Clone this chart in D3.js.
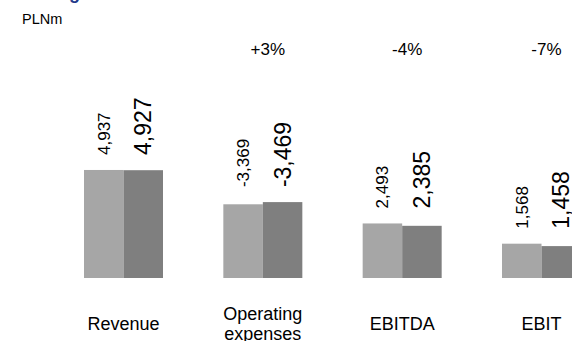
<!DOCTYPE html>
<html>
<head>
<meta charset="utf-8">
<script src="https://cdn.jsdelivr.net/npm/d3@7"></script>
<style>
  html, body { margin: 0; padding: 0; background: #fff; }
  svg { display: block; font-family: "Liberation Sans", Arial, sans-serif; }
</style>
</head>
<body>
<svg id="chart" width="572" height="341"></svg>
<script>
// Categories and the two periods compared
const categories = ["Revenue", "Operating expenses", "EBITDA", "EBIT"];
const categoryLines = [["Revenue"], ["Operating", "expenses"], ["EBITDA"], ["EBIT"]];
const periods = ["previous", "current"];

// Values in PLNm (absolute magnitudes drawn as bars, label text keeps the sign)
const previousValues = [4937, 3369, 2493, 1568];
const currentValues = [4927, 3469, 2385, 1458];
const previousLabels = ["4,937", "-3,369", "2,493", "1,568"];
const currentLabels = ["4,927", "-3,469", "2,385", "1,458"];

// Year-on-year change shown above the three cost / profit groups
const changeLabels = [null, "+3%", "-4%", "-7%"];

const unitLabel = "PLNm";
const titleText = "Strong results";

const svg = d3.select("#chart");

const colors = { previous: "#a6a6a6", current: "#7f7f7f" };

const x = d3.scaleBand()
  .domain(categories)
  .range([84, 581])
  .paddingInner(0.433)
  .paddingOuter(0);

const xInner = d3.scaleBand()
  .domain(periods)
  .range([0, x.bandwidth()])
  .padding(0);

const y = d3.scaleLinear()
  .domain([0, 5000])
  .range([278, 168.6]);

const rows = categories.map((c, i) => ({
  category: c,
  lines: categoryLines[i],
  values: { previous: previousValues[i], current: currentValues[i] },
  labels: { previous: previousLabels[i], current: currentLabels[i] },
  change: changeLabels[i]
}));

// Page title (sits above the visible area; only its descender shows)
svg.append("text")
  .attr("x", 22)
  .attr("y", -1)
  .attr("fill", "#1f3a8a")
  .attr("font-size", 18)
  .attr("font-weight", "bold")
  .text(titleText);

// Unit caption
svg.append("text")
  .attr("x", 22)
  .attr("y", 23.5)
  .attr("font-size", 14.5)
  .attr("fill", "#000")
  .text(unitLabel);

const groups = svg.selectAll("g.group")
  .data(rows)
  .join("g")
  .attr("class", "group")
  .attr("transform", d => `translate(${x(d.category)},0)`);

// Bars
groups.selectAll("rect")
  .data(d => periods.map(p => ({ period: p, value: d.values[p] })))
  .join("rect")
  .attr("x", d => xInner(d.period))
  .attr("y", d => y(d.value))
  .attr("width", xInner.bandwidth())
  .attr("height", d => y(0) - y(d.value))
  .attr("fill", d => colors[d.period]);

// Rotated value labels, both starting just above the taller bar of the pair
groups.selectAll("text.value")
  .data(d => periods.map(p => ({
    period: p,
    label: d.labels[p],
    top: y(Math.max(d.values.previous, d.values.current))
  })))
  .join("text")
  .attr("class", "value")
  .attr("transform", d => `translate(${xInner(d.period) + xInner.bandwidth() / 2},${d.top - 15}) rotate(-90)`)
  .attr("dy", "0.35em")
  .attr("text-anchor", "start")
  .attr("font-size", d => d.period === "current" ? 23 : 17)
  .attr("fill", "#000")
  .text(d => d.label);

// Change percentages
groups.filter(d => d.change)
  .append("text")
  .attr("x", x.bandwidth() / 2 + 5)
  .attr("y", 55)
  .attr("text-anchor", "middle")
  .attr("font-size", 17)
  .attr("fill", "#000")
  .text(d => d.change);

// Category labels, vertically centred on one line height
const lineHeight = 20;
groups.append("text")
  .attr("class", "category")
  .attr("text-anchor", "middle")
  .attr("font-size", 18)
  .attr("fill", "#000")
  .selectAll("tspan")
  .data(d => d.lines.map((t, i) => ({ t, i, n: d.lines.length })))
  .join("tspan")
  .attr("x", x.bandwidth() / 2)
  .attr("y", d => 330 + (d.i - (d.n - 1) / 2) * lineHeight)
  .text(d => d.t);
</script>
</body>
</html>
